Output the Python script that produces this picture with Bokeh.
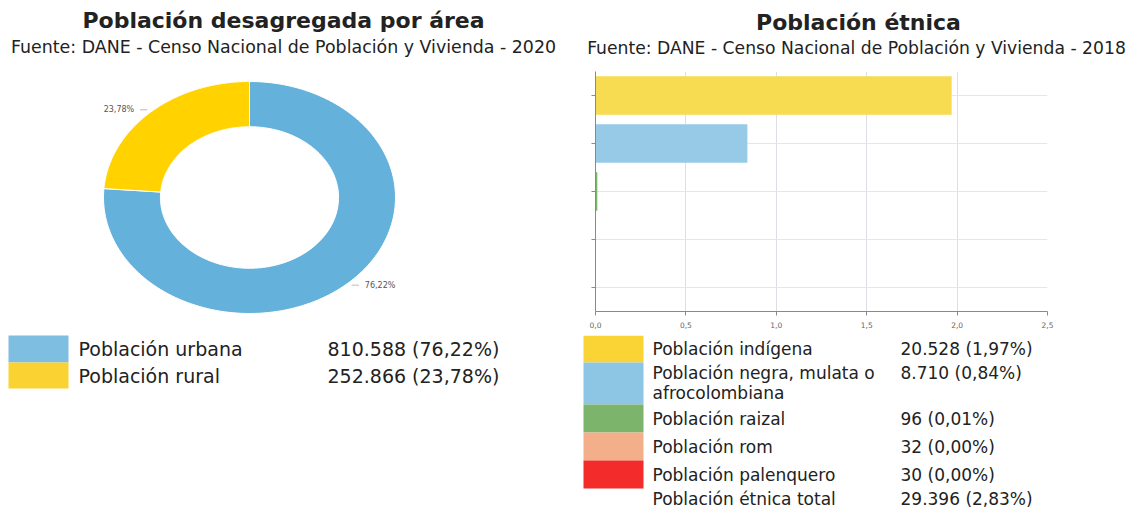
import numpy as np
from bokeh.plotting import figure
from bokeh.models import Range1d, FactorRange, FixedTicker, CustomJSTickFormatter, ColumnDataSource
from bokeh.layouts import row, column
from bokeh.core.properties import value
from bokeh.embed import file_html
from bokeh.resources import INLINE

# ---------------- data ----------------
area_title = "Población desagregada por área"
area_source = "Fuente: DANE - Censo Nacional de Población y Vivienda - 2020"
area_labels = ["Población urbana", "Población rural"]
area_values = [810588, 252866]
area_pct = [76.22, 23.78]
area_pct_text = ["76,22%", "23,78%"]
area_value_text = ["810.588 (76,22%)", "252.866 (23,78%)"]
area_colors = ["#64B2DB", "#FFD200"]
area_legend_colors = ["#7EBEE0", "#FAD232"]

etnia_title = "Población étnica"
etnia_source = "Fuente: DANE - Censo Nacional de Población y Vivienda - 2018"
etnia_keys = ["indigena", "negra", "raizal", "rom", "palenquero"]
etnia_labels = ["Población indígena", "Población negra, mulata o\nafrocolombiana",
                "Población raizal", "Población rom", "Población palenquero"]
etnia_pct = [1.97, 0.84, 0.01, 0.00, 0.00]
etnia_value_text = ["20.528 (1,97%)", "8.710 (0,84%)", "96 (0,01%)", "32 (0,00%)", "30 (0,00%)"]
etnia_bar_colors = ["#F7DB50", "#96CAE6", "#7DB46C", "#F3AE8A", "#F42B2B"]
etnia_legend_colors = ["#FAD435", "#8DC5E4", "#7DB46C", "#F3AE8A", "#F42B2B"]
etnia_total_label = "Población étnica total"
etnia_total_text = "29.396 (2,83%)"
x_ticks = [0, 0.5, 1.0, 1.5, 2.0, 2.5]

FONT = value("DejaVu Sans")
TXT = "#222222"


def pixel_fig(w, h):
    p = figure(width=w, height=h, x_range=Range1d(0, w), y_range=Range1d(h, 0),
               x_axis_type=None, y_axis_type=None, output_backend="svg",
               toolbar_location=None, min_border=0, frame_align=False)
    p.grid.visible = False
    p.outline_line_color = None
    return p


# ---------------- left: donut ----------------
LW, LH = 578, 508
left = pixel_fig(LW, LH)
left.text(x=[283], y=[20], text=[area_title], text_font=FONT, text_font_style="bold",
          text_font_size="22px", text_align="center", text_baseline="middle", text_color=TXT)
left.text(x=[283], y=[46], text=[area_source], text_font=FONT,
          text_font_size="17.4px", text_align="center", text_baseline="middle", text_color=TXT)

cx, cy, rx, ry = 249, 197, 146, 116
left.extra_x_ranges = {"dx": Range1d(-cx / rx, (LW - cx) / rx)}
left.extra_y_ranges = {"dy": Range1d(-(LH - cy) / ry, cy / ry)}
inner = 0.61
total = sum(area_values)
xs, ys = [], []
lab_x, lab_y, lab_t, lab_align = [], [], [], []
seg_x0, seg_y0, seg_x1, seg_y1 = [], [], [], []
f0 = 0.0
for v, t in zip(area_values, area_pct_text):
    f1 = f0 + v / total
    th = np.linspace(2 * np.pi * f0, 2 * np.pi * f1, 160)
    px = np.concatenate([np.sin(th), inner * np.sin(th[::-1])])
    py = np.concatenate([np.cos(th), inner * np.cos(th[::-1])])
    xs.append(px.tolist()); ys.append(py.tolist())
    mid = np.pi * (f0 + f1)
    sx, sy = np.sin(mid), np.cos(mid)
    seg_x0.append(1.03 * sx); seg_y0.append(1.03 * sy)
    seg_x1.append(1.03 * sx + 0.05 * np.sign(sx)); seg_y1.append(1.03 * sy)
    lab_x.append(1.03 * sx + 0.09 * np.sign(sx)); lab_y.append(1.03 * sy)
    lab_t.append(t); lab_align.append("left" if sx > 0 else "right")
    f0 = f1
left.patches(xs, ys, fill_color=area_colors, line_color="white", line_width=1,
             x_range_name="dx", y_range_name="dy")
left.segment(seg_x0, seg_y0, seg_x1, seg_y1, line_color="#bbbbbb", line_width=1,
             x_range_name="dx", y_range_name="dy")
left.text(x=lab_x, y=lab_y, text=lab_t, text_align=lab_align, text_baseline="middle",
          text_font=FONT, text_font_size="8px", text_color="#555555",
          x_range_name="dx", y_range_name="dy")

# left legend
row_tops = [335, 362]
row_h = [27, 26]
for i, (lab, vt, col) in enumerate(zip(area_labels, area_value_text, area_legend_colors)):
    t = row_tops[i]; b = t + row_h[i]
    left.quad(left=[8], right=[68], top=[t], bottom=[b], fill_color=col, line_color=None)
    yc = (t + b) / 2
    left.text(x=[78], y=[yc], text=[lab], text_font=FONT, text_font_size="19px",
              text_baseline="middle", text_color=TXT)
    left.text(x=[327], y=[yc], text=[vt], text_font=FONT, text_font_size="19px",
              text_baseline="middle", text_color=TXT)

# ---------------- right ----------------
RW = 553
rhead = pixel_fig(RW, 68)
rhead.text(x=[280], y=[22], text=[etnia_title], text_font=FONT, text_font_style="bold",
           text_font_size="22px", text_align="center", text_baseline="middle", text_color=TXT)
rhead.text(x=[278], y=[47], text=[etnia_source], text_font=FONT,
           text_font_size="17.2px", text_align="center", text_baseline="middle", text_color=TXT)

src = ColumnDataSource(dict(k=etnia_keys, v=etnia_pct, c=etnia_bar_colors))
chart = figure(width=RW, height=267, y_range=FactorRange(*etnia_keys[::-1]),
               x_range=Range1d(0, 2.5), output_backend="svg", toolbar_location=None,
               min_border_left=17, min_border_right=84, min_border_top=3, min_border_bottom=24,
               frame_align=False)
chart.hbar(y="k", right="v", left=0, height=0.8, fill_color="c", line_color=None, source=src)
chart.outline_line_color = None
chart.xaxis.ticker = FixedTicker(ticks=x_ticks)
chart.xaxis.formatter = CustomJSTickFormatter(code="return tick.toFixed(1).replace('.', ',');")
chart.xaxis.axis_line_color = "#8a8a8a"
chart.xaxis.major_tick_line_color = "#8a8a8a"
chart.xaxis.major_tick_out = 4
chart.xaxis.major_tick_in = 0
chart.xaxis.minor_tick_line_color = None
chart.xaxis.major_label_text_font = "DejaVu Sans"
chart.xaxis.major_label_text_font_size = "7.5px"
chart.xaxis.major_label_text_color = "#666666"
chart.xaxis.major_label_standoff = 6
chart.yaxis.axis_line_color = "#8a8a8a"
chart.yaxis.major_tick_line_color = "#8a8a8a"
chart.yaxis.major_tick_out = 4
chart.yaxis.major_tick_in = 0
chart.yaxis.formatter = CustomJSTickFormatter(code="return '';")
chart.yaxis.major_label_standoff = 0
chart.xgrid.grid_line_color = "#dedee8"
chart.ygrid.grid_line_color = "#e6e6e6"

rleg = pixel_fig(RW, 173)
tops = [0, 27, 69, 97, 125]
bots = [27, 69, 97, 125, 153]
for i, (lab, vt, col) in enumerate(zip(etnia_labels, etnia_value_text, etnia_legend_colors)):
    t, b = tops[i], bots[i]
    rleg.quad(left=[5], right=[65], top=[t], bottom=[b], fill_color=col, line_color=None)
    lines = lab.split("\n")
    y0 = (t + b) / 2 if len(lines) == 1 else t + 10
    for j, ln in enumerate(lines):
        rleg.text(x=[74], y=[y0 + 20 * j], text=[ln], text_font=FONT, text_font_size="17px",
                  text_baseline="middle", text_color=TXT)
    rleg.text(x=[322], y=[y0], text=[vt], text_font=FONT, text_font_size="17px",
              text_baseline="middle", text_color=TXT)
rleg.text(x=[74], y=[163], text=[etnia_total_label], text_font=FONT, text_font_size="17px",
          text_baseline="middle", text_color=TXT)
rleg.text(x=[322], y=[163], text=[etnia_total_text], text_font=FONT, text_font_size="17px",
          text_baseline="middle", text_color=TXT)

layout = row(left, column(rhead, chart, rleg, spacing=0), spacing=0)
open("out.html", "w").write(file_html(layout, INLINE))
